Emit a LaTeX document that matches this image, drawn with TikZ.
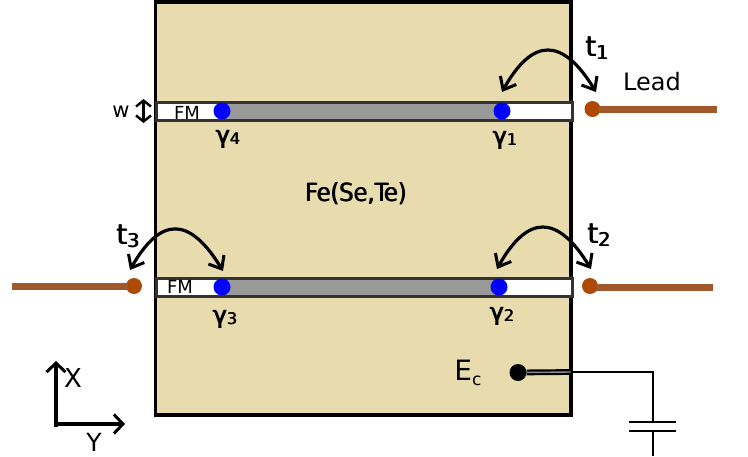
\documentclass[tikz,border=0pt]{standalone}
\usepackage{fontspec}
\setmainfont{DejaVu Sans}
\newfontfamily\narrowfont{DejaVu Sans Condensed}
\definecolor{sampletan}{RGB}{232,220,175}
\definecolor{leadbrown}{RGB}{160,88,44}
\definecolor{leaddot}{RGB}{174,74,4}
\definecolor{stripgray}{RGB}{153,153,153}
\usetikzlibrary{arrows.meta}
\usetikzlibrary{bending}
\newcommand{\twice}[1]{\rlap{#1}\hspace{0.9pt}#1}
\newcommand{\gammalabel}[1]{\twice{\fontsize{24}{24}\selectfont γ\raisebox{-1pt}{\fontsize{16}{16}\selectfont #1}}}
\newcommand{\hoplabel}[1]{\twice{\fontsize{28}{28}\selectfont t\raisebox{-3pt}{\fontsize{19}{19}\selectfont #1}}}
\tikzset{
  majorana/.style={circle, fill=blue, inner sep=0, minimum size=17pt},
  leadend/.style={circle, fill=leaddot, inner sep=0, minimum size=16pt},
  leadline/.style={line width=7pt, leadbrown},
  hop/.style={<->, >={Straight Barb[length=11pt,width=18pt,line width=3pt,flex=0]}, line width=3.2pt},
  axis/.style={->, >={Straight Barb[length=9pt,width=19pt,line width=3pt]}, line width=3.2pt},
  strip/.style={draw=black!80, line width=3pt, fill=white},
  plate/.style={line width=2.8pt},
  wire/.style={line width=1.5pt}
}

\begin{document}
\begin{tikzpicture}[x=1pt,y=-1pt]
  \useasboundingbox (0,0) rectangle (748,456);

  % sample
  \draw [line width=3.2pt, fill=sampletan] (155.5,2) rectangle (571,415);
  \node (film) at (356,194) {\narrowfont\twice{\fontsize{25}{25}\selectfont Fe(Se,Te)}};

  % wires
  \draw [strip] (156,102) rectangle (572.5,120);
  \draw [strip] (156,278) rectangle (572.5,296);
  \fill [stripgray] (222,103.5) rectangle (502,118.5);
  \fill [stripgray] (222,279.5) rectangle (499,294.5);
  \node (fmtop) at (187,112.5) {\fontsize{18}{18}\selectfont FM};
  \node (fmbot) at (180,287) {\fontsize{18}{18}\selectfont FM};

  % width marker
  \coordinate (wtop) at (143.5,99);
  \coordinate (wbot) at (143.5,123);
  \draw [<->, >={Straight Barb[length=6pt,width=15pt,line width=2.4pt]}, line width=2.6pt] (wtop) -- (wbot);
  \node (wlabel) at (121,111.5) {\fontsize{21}{21}\selectfont w};

  % end states
  \node [majorana] (gamone) at (502,111) {};
  \node [majorana] (gamtwo) at (499,287) {};
  \node [majorana] (gamthree) at (222,287) {};
  \node [majorana] (gamfour) at (222,111) {};
  \node (gamonelabel) at (505,140) {\gammalabel{1}};
  \node (gamtwolabel) at (502,316) {\gammalabel{2}};
  \node (gamthreelabel) at (225,319) {\gammalabel{3}};
  \node (gamfourlabel) at (228,139) {\gammalabel{4}};

  % leads
  \node [leadend] (leadone) at (592.5,109) {};
  \node [leadend] (leadtwo) at (590,286) {};
  \node [leadend] (leadthree) at (134,286) {};
  \coordinate (leadoneend) at (717,109);
  \coordinate (leadtwoend) at (713,287);
  \coordinate (leadthreeend) at (12,286);
  \draw [leadline] (leadone.center) ++(6,0) -- (leadoneend);
  \draw [leadline] (leadtwo.center) ++(6,1) -- (leadtwoend);
  \draw [leadline] (leadthree.center) ++(-6,0) -- (leadthreeend);
  \node (leadlabel) at (652,82) {\fontsize{24}{24}\selectfont Lead};

  % tunnelling
  \coordinate (hoponea) at (502,92);
  \coordinate (hoponeb) at (596,92);
  \coordinate (hoptwoa) at (497,269);
  \coordinate (hoptwob) at (591,269);
  \coordinate (hopthreea) at (130,270);
  \coordinate (hopthreeb) at (223,271);
  \draw [hop] (hoponea) .. controls (532,36) and (563,36) .. (hoponeb);
  \draw [hop] (hoptwoa) .. controls (527,213) and (558,213) .. (hoptwob);
  \draw [hop] (hopthreea) .. controls (160,215) and (190,215) .. (hopthreeb);
  \node (hoponelabel) at (597,48) {\hoplabel{1}};
  \node (hoptwolabel) at (599,235) {\hoplabel{2}};
  \node (hopthreelabel) at (128,236) {\hoplabel{3}};

  % gate
  \node [circle, fill=black, inner sep=0, minimum size=17pt] (gate) at (518,372.5) {};
  \coordinate (gateedge) at (571,372);
  \coordinate (gatecorner) at (653,372);
  \coordinate (plateup) at (653,422);
  \coordinate (platedown) at (653,432);
  \coordinate (ground) at (653,456);
  \draw [line width=2.2pt, double=black!45, double distance=1.4pt] (gate) -- (gateedge);
  \draw [wire] (gateedge) -- (gatecorner) -- (plateup);
  \draw [wire] (platedown) -- (ground);
  \draw [plate] (629,422) -- (676,422);
  \draw [plate] (629,431) -- (676,431);
  \node (gatelabel) at (468,373) {\fontsize{28}{28}\selectfont E\raisebox{-5pt}{\fontsize{17}{17}\selectfont c}};

  % axes
  \coordinate (origin) at (56,427);
  \coordinate (xtip) at (56,361);
  \coordinate (ytip) at (125,424);
  \draw [axis] (origin) -- (xtip);
  \draw [axis] (58,424) -- (ytip);
  \node (xlabel) at (73,378) {\fontsize{26}{26}\selectfont X};
  \node [inner sep=0] (ylabel) at (94,442) {\fontsize{25}{25}\selectfont Y};
\end{tikzpicture}
\end{document}
